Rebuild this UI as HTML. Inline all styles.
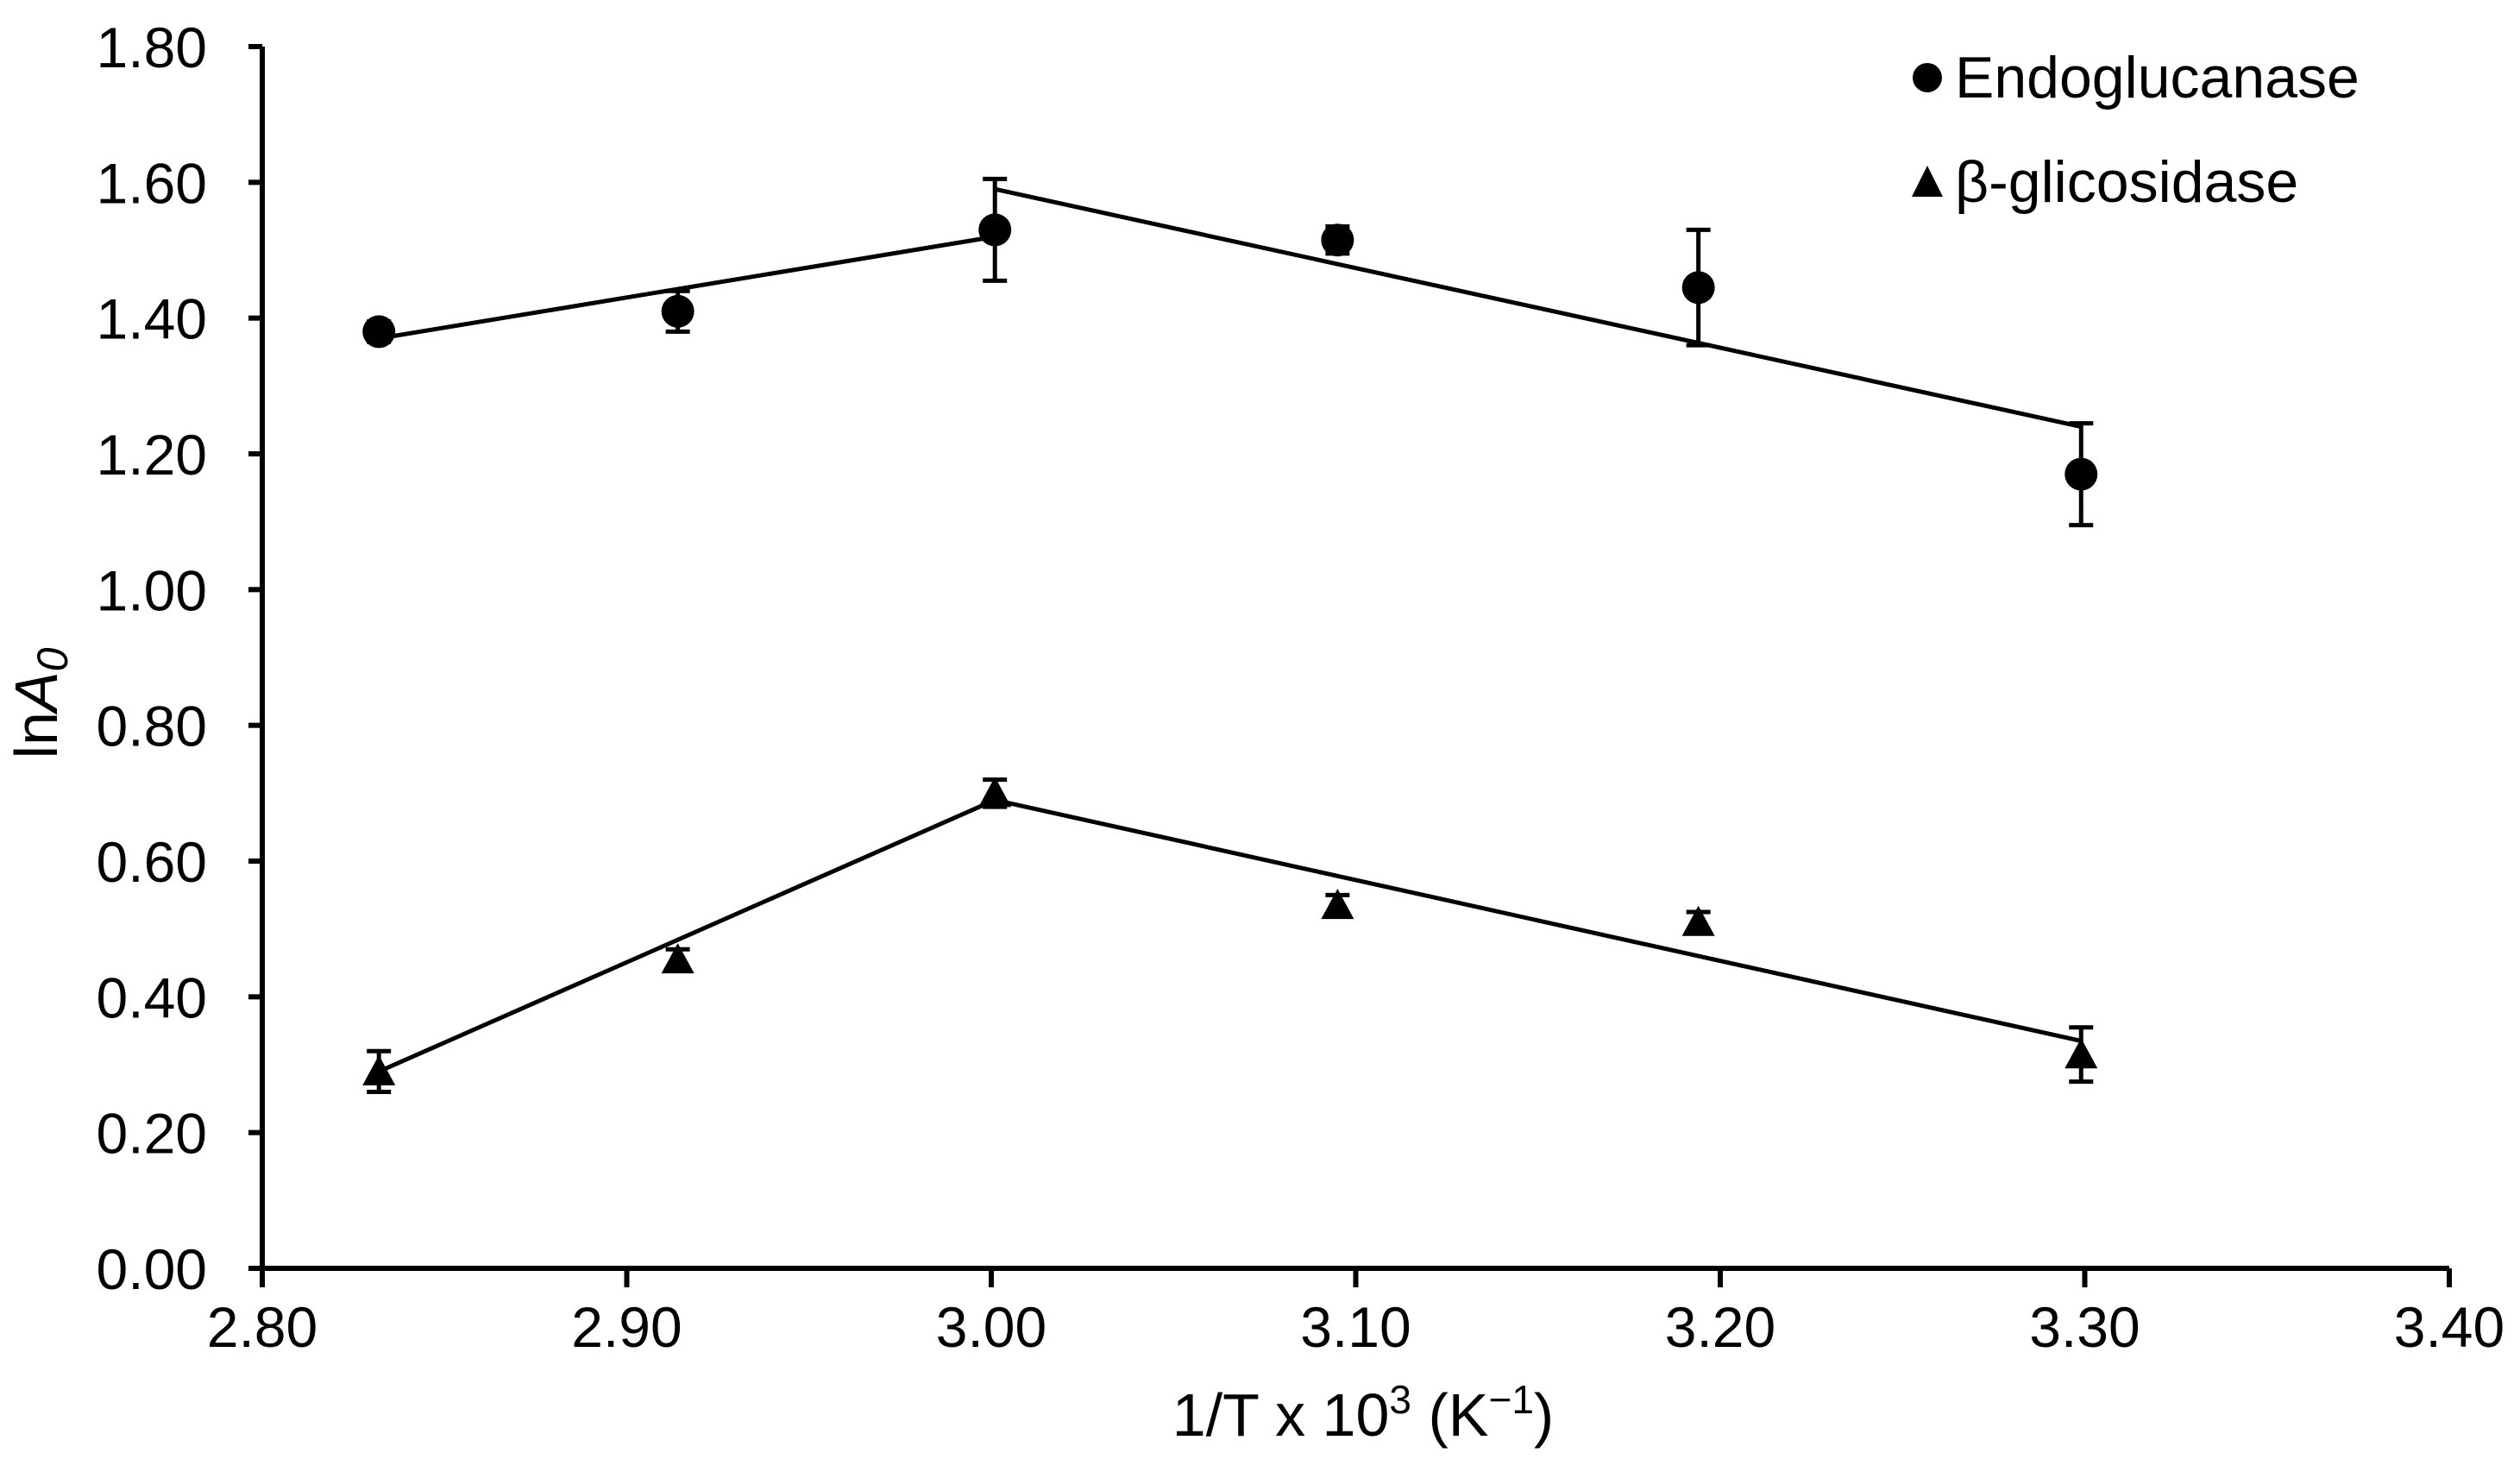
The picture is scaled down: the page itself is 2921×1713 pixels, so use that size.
<!DOCTYPE html>
<html><head><meta charset="utf-8"><style>
html,body{margin:0;padding:0;background:#fff;}
svg{display:block;font-family:"Liberation Sans",Arial,sans-serif;}
</style></head><body>
<svg id="chart" width="2921" height="1713" viewBox="0 0 2921 1713" xmlns="http://www.w3.org/2000/svg">
<g id="axes"></g>
<g id="fits"></g>
<g id="marks"></g>
<text transform="translate(66,815) rotate(-90)" text-anchor="middle" font-size="70">ln<tspan font-style="italic">A</tspan><tspan font-style="italic" font-size="50" dy="12">0</tspan></text>
<text x="1580" y="1664" text-anchor="middle" font-size="70">1/T x 10<tspan font-size="46" dy="-26">3</tspan><tspan dy="26"> (K</tspan><tspan font-size="46" dy="-26">−1</tspan><tspan dy="26">)</tspan></text>
<g>
 <g>
  <circle cx="2234" cy="90" r="17" fill="#000"/>
  <text x="2266" y="113" font-size="68">Endoglucanase</text>
 </g>
 <g>
  <polygon points="2216,228 2234,192 2252,228" fill="#000"/>
  <text x="2266" y="234" font-size="68">β-glicosidase</text>
 </g>
</g>
</svg>
<script>
const xTicks=[2.80,2.90,3.00,3.10,3.20,3.30,3.40];
const yTicks=[0,0.2,0.4,0.6,0.8,1.0,1.2,1.4,1.6,1.8];
const xVals=[2.832,2.914,3.001,3.095,3.194,3.299];
const endoVals=[1.38,1.41,1.53,1.515,1.445,1.17];
const endoErr=[0.015,0.03,0.075,0.02,0.085,0.075];
const betaVals=[0.29,0.455,0.70,0.535,0.51,0.315];
const betaErr=[0.03,0.015,0.02,0.015,0.015,0.04];
const endoFitX=[[2.832,3.001],[3.001,3.299]];
const endoFitY=[[1.37,1.52],[1.59,1.24]];
const betaFitX=[[2.832,3.001],[3.001,3.299]];
const betaFitY=[[0.29,0.69],[0.69,0.335]];

const X0=304,X1=2839,Y0=1470,Y1=54;
const sx=v=>X0+(v-2.8)/0.6*(X1-X0);
const sy=v=>Y0-(v/1.8)*(Y0-Y1);
const NS='http://www.w3.org/2000/svg';
function mk(tag,attrs,parent){const e=document.createElementNS(NS,tag);for(const k in attrs)e.setAttribute(k,attrs[k]);parent.appendChild(e);return e;}
const axes=document.getElementById('axes'),fits=document.getElementById('fits'),marks=document.getElementById('marks');
let a=mk('line',{x1:X0,y1:Y1,x2:X0,y2:Y0,stroke:'#000','stroke-width':6},axes);


a=mk('line',{x1:X0-3,y1:Y0,x2:X1,y2:Y0,stroke:'#000','stroke-width':6},axes);


yTicks.forEach(v=>{
 const t=mk('line',{x1:X0-16,y1:sy(v),x2:X0,y2:sy(v),stroke:'#000','stroke-width':6},axes);
 
 
 const l=mk('text',{x:X0-64,y:sy(v)+24,'text-anchor':'end','font-size':66},axes);
 l.textContent=v.toFixed(2);
 
 
});
xTicks.forEach(v=>{
 const t=mk('line',{x1:sx(v),y1:Y0,x2:sx(v),y2:Y0+22,stroke:'#000','stroke-width':6},axes);
 
 
 const l=mk('text',{x:sx(v),y:1561,'text-anchor':'middle','font-size':66},axes);
 l.textContent=v.toFixed(2);
 
 
});
function fit(xs,ys,name){xs.forEach((seg,i)=>{
 const l=mk('line',{x1:sx(seg[0]),y1:sy(ys[i][0]),x2:sx(seg[1]),y2:sy(ys[i][1]),stroke:'#000','stroke-width':5},fits);
 
 
});}
fit(endoFitX,endoFitY,'endoglucanase');
fit(betaFitX,betaFitY,'beta-glicosidase');
function series(vals,errs,shape,name){vals.forEach((v,i)=>{
 const cx=sx(xVals[i]),cy=sy(v),t=sy(v+errs[i]),b=sy(v-errs[i]);
 const g=mk('g',{},marks);
 
 
 mk('line',{x1:cx,y1:t,x2:cx,y2:b,stroke:'#000','stroke-width':5},g);
 mk('line',{x1:cx-14,y1:t,x2:cx+14,y2:t,stroke:'#000','stroke-width':5},g);
 mk('line',{x1:cx-14,y1:b,x2:cx+14,y2:b,stroke:'#000','stroke-width':5},g);
 if(shape==='c')mk('circle',{cx:cx,cy:cy,r:19,fill:'#000'},g);
 else mk('polygon',{points:`${cx-19},${cy+16} ${cx},${cy-19} ${cx+19},${cy+16}`,fill:'#000'},g);
});}
series(endoVals,endoErr,'c','endoglucanase');
series(betaVals,betaErr,'t','beta-glicosidase');
</script>
</body></html>
